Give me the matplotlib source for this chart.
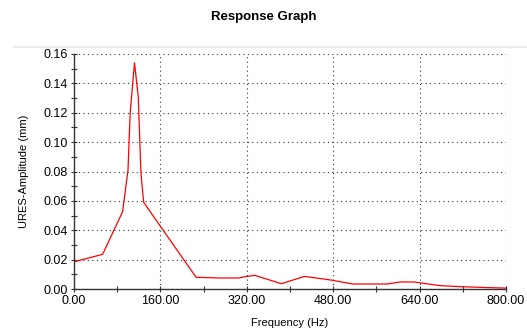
import matplotlib
matplotlib.use("Agg")
import matplotlib.pyplot as plt
from matplotlib.lines import Line2D
from matplotlib.ticker import MultipleLocator, FormatStrFormatter

# response curve
freq = [0, 53, 90, 100, 104, 112, 119, 124, 129, 226, 268, 305, 317, 335,
        384, 427, 476, 516, 580, 604, 629, 678, 714, 763, 800]
ampl = [0.0185, 0.0236, 0.0526, 0.081, 0.1196, 0.154, 0.131, 0.0788, 0.059,
        0.008, 0.0075, 0.0075, 0.0084, 0.0093, 0.0036, 0.0086, 0.0061,
        0.0034, 0.0034, 0.0048, 0.0048, 0.0023, 0.0016, 0.0010, 0.0006]

plt.rcParams['font.family'] = ['Liberation Sans', 'DejaVu Sans']

fig = plt.figure(figsize=(5.27, 3.34), dpi=100)
ax = fig.add_axes([74/527, 1-289/334, 432/527, 235/334])

ax.plot(freq, ampl, color='#ff0000', lw=0.9)

ax.set_xlim(0, 800)
ax.set_ylim(0, 0.16)
ax.xaxis.set_major_locator(MultipleLocator(160))
ax.xaxis.set_minor_locator(MultipleLocator(80))
ax.yaxis.set_major_locator(MultipleLocator(0.02))
ax.yaxis.set_minor_locator(MultipleLocator(0.01))
ax.xaxis.set_major_formatter(FormatStrFormatter('%.2f'))
ax.yaxis.set_major_formatter(FormatStrFormatter('%.2f'))
ax.tick_params(which='both', direction='inout', length=5, width=0.8,
               labelsize=9, pad=2, color='#333333')
ax.tick_params(which='minor', length=4)

ax.grid(True, which='major', color='#333333', linestyle=(0, (1, 3)), lw=0.8)
for s in ['top', 'right']:
    ax.spines[s].set_visible(False)
for s in ['left', 'bottom']:
    ax.spines[s].set_color('#333333')
    ax.spines[s].set_linewidth(1.0)

ax.set_xlabel('Frequency (Hz)', fontsize=8, labelpad=8)
ax.set_ylabel('URES-Amplitude (mm)', fontsize=8, labelpad=10)

fig.text(0.5, 1-17/334, 'Response Graph', ha='center', va='center',
         fontsize=9.5, fontweight='bold')
fig.add_artist(Line2D([14/527, 1], [1-47/334, 1-47/334],
                      transform=fig.transFigure, color='#ebebeb', lw=1.5))

fig.savefig('out.png', dpi=100)
